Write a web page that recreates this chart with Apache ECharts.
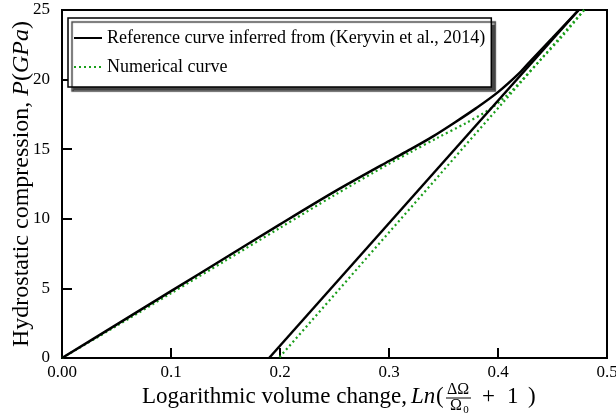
<!DOCTYPE html>
<html>
<head>
<meta charset="utf-8">
<script src="https://cdn.jsdelivr.net/npm/echarts@6/dist/echarts.min.js"></script>
<style>
  html, body { margin: 0; padding: 0; background: #fff; }
  #chart { width: 616px; height: 415px; }
</style>
</head>
<body>
<div id="chart"></div>
<script>
// reference curve: loading branch, then straight unloading branch
var refLoadX = [0, 0.05, 0.1, 0.15, 0.2, 0.25, 0.3, 0.32, 0.34, 0.36, 0.38, 0.40, 0.42, 0.43, 0.45, 0.474];
var refLoadP = [0, 2.4, 4.8, 7.2, 9.6, 11.95, 14.15, 15.0, 15.9, 16.9, 17.95, 19.1, 20.5, 21.35, 23.0, 25];
var refUnloadX = [0.474, 0.19];
var refUnloadP = [25, 0];
// numerical curve
var numLoadX = [0, 0.05, 0.1, 0.15, 0.2, 0.25, 0.3, 0.32, 0.344, 0.37, 0.393, 0.41, 0.42, 0.44, 0.46, 0.479];
var numLoadP = [0, 2.3, 4.65, 7.0, 9.35, 11.7, 13.95, 14.8, 15.8, 16.85, 17.9, 19.0, 19.8, 21.5, 23.2, 25];
var numUnloadX = [0.479, 0.199];
var numUnloadP = [25, 0];

var seriesNames = ["Reference curve inferred from (Keryvin et al., 2014)", "Numerical curve"];

function pairs(xs, ys) {
  return xs.map(function (x, i) { return [x, ys[i]]; });
}

var serif = '"Liberation Serif", "Times New Roman", serif';
var chart = echarts.init(document.getElementById("chart"));

function txt(x, y, s, font, align) {
  return {
    type: "text", x: x, y: y,
    style: {
      text: s, font: font, fill: "#000",
      align: align || "left", textAlign: align || "left",
      verticalAlign: "middle", textVerticalAlign: "middle"
    }
  };
}

var refLine = { color: "#000", width: 2.5 };
var numLine = { color: "#1a9e1a", width: 2.2, type: [2, 3] };

var option = {
  animation: false,
  backgroundColor: "#fff",
  grid: {
    left: 62, right: 9, top: 10, bottom: 57,
    outerBoundsMode: "none",
    show: true, borderColor: "#000", borderWidth: 2
  },
  legend: {
    orient: "vertical",
    left: 68, top: 18,
    padding: [11, 6, 11, 5],
    itemWidth: 28, itemHeight: 18, itemGap: 11,
    backgroundColor: "#fff",
    borderColor: "#000", borderWidth: 1.5,
    shadowColor: "#444", shadowBlur: 1, shadowOffsetX: 4, shadowOffsetY: 4,
    itemStyle: { opacity: 0 },
    textStyle: { fontFamily: serif, fontSize: 18, color: "#000" },
    data: seriesNames
  },
  xAxis: {
    type: "value", min: 0, max: 0.5, interval: 0.1,
    axisLine: { lineStyle: { color: "#000", width: 2 } },
    axisTick: { inside: true, length: 10, lineStyle: { color: "#000", width: 2 } },
    splitLine: { show: false },
    axisLabel: {
      margin: 6, color: "#000", fontFamily: serif, fontSize: 17,
      formatter: function (v) { return v === 0 ? "0.00" : v.toFixed(1); }
    }
  },
  yAxis: {
    type: "value", min: 0, max: 25, interval: 5,
    axisLine: { lineStyle: { color: "#000", width: 2 } },
    axisTick: { inside: true, length: 10, lineStyle: { color: "#000", width: 2 } },
    splitLine: { show: false },
    axisLabel: { margin: 12, color: "#000", fontFamily: serif, fontSize: 17 },
    name: "Hydrostatic compression, {i|P}({i|GPa})",
    nameLocation: "middle", nameRotate: 90, nameGap: 28, nameMoveOverlap: false,
    nameTextStyle: {
      fontFamily: serif, fontSize: 24, color: "#000",
      rich: {
        i: { fontFamily: serif, fontSize: 24, fontStyle: "italic", color: "#000" }
      }
    }
  },
  graphic: [
    txt(142, 397, "Logarithmic volume change,", "23px " + serif),
    txt(411, 397, "Ln", "italic 23px " + serif),
    txt(436, 397, "(", "23px " + serif),
    txt(458, 390, "ΔΩ", "16px " + serif, "center"),
    { type: "line", shape: { x1: 446, y1: 398, x2: 471, y2: 398 }, style: { stroke: "#000", lineWidth: 1 } },
    txt(456, 406, "Ω", "16px " + serif, "center"),
    txt(466, 410, "0", "11px " + serif, "center"),
    txt(482, 397, "+", "23px " + serif),
    txt(507, 397, "1", "23px " + serif),
    txt(528, 397, ")", "23px " + serif)
  ],
  series: [
    {
      name: seriesNames[1], type: "line", symbol: "none", z: 2, smooth: 0.3,
      data: pairs(numLoadX, numLoadP), lineStyle: numLine, itemStyle: { color: "#1a9e1a" }
    },
    {
      name: seriesNames[1], type: "line", symbol: "none", z: 2,
      data: pairs(numUnloadX, numUnloadP), lineStyle: numLine, itemStyle: { color: "#1a9e1a" }
    },
    {
      name: seriesNames[0], type: "line", symbol: "none", z: 3, smooth: 0.3,
      data: pairs(refLoadX, refLoadP), lineStyle: refLine, itemStyle: { color: "#000" }
    },
    {
      name: seriesNames[0], type: "line", symbol: "none", z: 3,
      data: pairs(refUnloadX, refUnloadP), lineStyle: refLine, itemStyle: { color: "#000" }
    }
  ]
};

chart.setOption(option);
</script>
</body>
</html>
